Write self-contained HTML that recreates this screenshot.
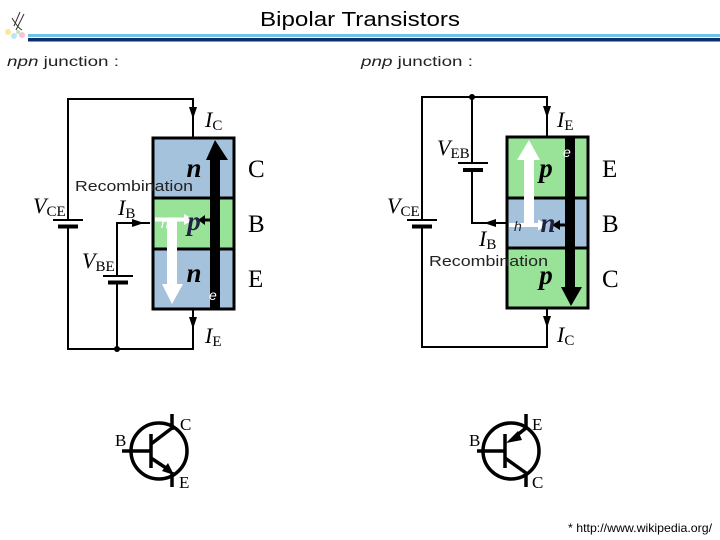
<!DOCTYPE html>
<html><head><meta charset="utf-8"><style>
html,body{margin:0;padding:0;background:#fff;}
svg{display:block;}
.s{font-family:"Liberation Sans",sans-serif;}
.r{font-family:"Liberation Serif",serif;}
.i{font-family:"Liberation Serif",serif;font-style:italic;}
.sub{font-family:"Liberation Serif",serif;}
</style></head><body>
<svg width="720" height="540" viewBox="0 0 720 540" xmlns="http://www.w3.org/2000/svg">
<text x="360" y="26" class="s" font-size="20" text-anchor="middle" textLength="200" lengthAdjust="spacingAndGlyphs">Bipolar Transistors</text>
<rect x="28" y="34" width="692" height="3" fill="#6fc3e6"/>
<rect x="28" y="38" width="692" height="3.5" fill="#0d2f6b"/>
<path d="M14 26 L20 12 M16 30 L24 14 M12 18 Q18 28 22 30" stroke="#333" stroke-width="1" fill="none"/>
<circle cx="8" cy="32" r="3" fill="#f3e06a" opacity="0.7"/>
<circle cx="14" cy="36" r="3" fill="#a6d8f0" opacity="0.7"/>
<circle cx="22" cy="35" r="3" fill="#f5a8c8" opacity="0.7"/>
<circle cx="18" cy="32" r="2" fill="#9fe08f" opacity="0.7"/>
<text x="7" y="66" class="s" font-size="14" textLength="112" lengthAdjust="spacingAndGlyphs" fill="#222"><tspan font-style="italic">npn</tspan> junction :</text>
<text x="361" y="66" class="s" font-size="14" textLength="112" lengthAdjust="spacingAndGlyphs" fill="#222"><tspan font-style="italic">pnp</tspan> junction :</text>

<!-- ===== NPN ===== -->
<g stroke="#000" stroke-width="2" fill="none">
<path d="M68 220 V99 H193 V138"/>
<path d="M68 226 V349 H193 V309"/>
<path d="M117 349 V282 M117 276 V223 H150"/>
</g>
<path d="M189 107 L193 119 L197 107 Z" fill="#000"/>
<path d="M189 317 L193 329 L197 317 Z" fill="#000"/>
<path d="M132 219 L144 223 L132 227 Z" fill="#000"/>
<circle cx="117" cy="349" r="3" fill="#000"/>
<line x1="53" y1="220" x2="83" y2="220" stroke="#000" stroke-width="2"/>
<line x1="58" y1="226.5" x2="78" y2="226.5" stroke="#000" stroke-width="4"/>
<line x1="103" y1="276" x2="133" y2="276" stroke="#000" stroke-width="2"/>
<line x1="108" y1="282.5" x2="128" y2="282.5" stroke="#000" stroke-width="4"/>
<rect x="153" y="138" width="81" height="60" fill="#a4c2db"/>
<rect x="153" y="198" width="81" height="51" fill="#98e398"/>
<rect x="153" y="249" width="81" height="60" fill="#a4c2db"/>
<rect x="153" y="138" width="81" height="171" fill="none" stroke="#000" stroke-width="3"/>
<line x1="153" y1="198" x2="234" y2="198" stroke="#000" stroke-width="3"/>
<line x1="153" y1="249" x2="234" y2="249" stroke="#000" stroke-width="3"/>
<rect x="210" y="158" width="10" height="151" fill="#000"/>
<path d="M206 160 L215 140 L228 160 Z" fill="#000"/>
<line x1="210" y1="220" x2="202" y2="220" stroke="#000" stroke-width="3"/>
<path d="M205 215 L198 220 L205 225 Z" fill="#000"/>
<rect x="167" y="218" width="10" height="66" fill="#fff"/>
<path d="M162 284 L183 284 L172 304 Z" fill="#fff"/>
<rect x="155" y="217.5" width="30" height="4" fill="#fff"/>
<path d="M184 214 L194 219.5 L184 225 Z" fill="#fff"/>
<text x="194" y="177" class="r" font-size="27" font-weight="bold" font-style="italic" text-anchor="middle">n</text>
<text x="194" y="230" class="r" font-size="27" font-weight="bold" font-style="italic" text-anchor="middle" fill="#224">p</text>
<text x="194" y="282" class="r" font-size="27" font-weight="bold" font-style="italic" text-anchor="middle">n</text>
<text x="248" y="177" class="sub" font-size="25">C</text>
<text x="248" y="232" class="sub" font-size="25">B</text>
<text x="248" y="287" class="sub" font-size="25">E</text>
<text x="205" y="127" class="i" font-size="22">I<tspan font-style="normal" font-size="15" dy="3">C</tspan></text>
<text x="205" y="343" class="i" font-size="22">I<tspan font-style="normal" font-size="15" dy="3">E</tspan></text>
<text x="118" y="215" class="i" font-size="22">I<tspan font-style="normal" font-size="15" dy="3">B</tspan></text>
<text x="33" y="213" class="i" font-size="22">V<tspan font-style="normal" font-size="15" dy="3">CE</tspan></text>
<text x="82" y="268" class="i" font-size="22">V<tspan font-style="normal" font-size="15" dy="3">BE</tspan></text>
<text x="75" y="191" class="s" font-size="15" textLength="118" lengthAdjust="spacingAndGlyphs" fill="#222">Recombination</text>
<text x="161" y="228" class="s" font-size="14" font-style="italic" fill="#fff">h</text>
<text x="209" y="300" class="s" font-size="14" font-style="italic" fill="#fff">e</text>

<!-- ===== PNP ===== -->
<g stroke="#000" stroke-width="2" fill="none">
<path d="M422 220 V97 H547 V137"/>
<path d="M422 226 V347 H547 V308"/>
<path d="M472 97 V163 M472 170 V223 H507"/>
</g>
<circle cx="472" cy="97" r="3" fill="#000"/>
<path d="M543 106 L547 118 L551 106 Z" fill="#000"/>
<path d="M543 316 L547 328 L551 316 Z" fill="#000"/>
<path d="M496 219 L484 223 L496 227 Z" fill="#000"/>
<line x1="458" y1="163" x2="488" y2="163" stroke="#000" stroke-width="2"/>
<line x1="463" y1="170" x2="483" y2="170" stroke="#000" stroke-width="4"/>
<line x1="407" y1="220" x2="437" y2="220" stroke="#000" stroke-width="2"/>
<line x1="412" y1="226.5" x2="432" y2="226.5" stroke="#000" stroke-width="4"/>
<rect x="507" y="137" width="81" height="61" fill="#98e398"/>
<rect x="507" y="198" width="81" height="50" fill="#a4c2db"/>
<rect x="507" y="248" width="81" height="60" fill="#98e398"/>
<rect x="507" y="137" width="81" height="171" fill="none" stroke="#000" stroke-width="3"/>
<line x1="507" y1="198" x2="588" y2="198" stroke="#000" stroke-width="3"/>
<line x1="507" y1="248" x2="588" y2="248" stroke="#000" stroke-width="3"/>
<rect x="565" y="137" width="10" height="152" fill="#000"/>
<path d="M561 287 L582 287 L571 306 Z" fill="#000"/>
<line x1="565" y1="225" x2="557" y2="225" stroke="#000" stroke-width="3"/>
<path d="M560 220 L552 225 L560 230 Z" fill="#000"/>
<rect x="524" y="158" width="10" height="69" fill="#fff"/>
<path d="M517 160 L540 160 L529 140 Z" fill="#fff"/>
<rect x="509" y="223" width="30" height="4" fill="#fff"/>
<path d="M538 219.5 L547 225 L538 230.5 Z" fill="#fff"/>
<text x="546" y="177" class="r" font-size="27" font-weight="bold" font-style="italic" text-anchor="middle">p</text>
<text x="548" y="232" class="r" font-size="27" font-weight="bold" font-style="italic" text-anchor="middle" fill="#224">n</text>
<text x="546" y="284" class="r" font-size="27" font-weight="bold" font-style="italic" text-anchor="middle">p</text>
<text x="602" y="177" class="sub" font-size="25">E</text>
<text x="602" y="232" class="sub" font-size="25">B</text>
<text x="602" y="287" class="sub" font-size="25">C</text>
<text x="557" y="127" class="i" font-size="22">I<tspan font-style="normal" font-size="15" dy="3">E</tspan></text>
<text x="557" y="342" class="i" font-size="22">I<tspan font-style="normal" font-size="15" dy="3">C</tspan></text>
<text x="479" y="246" class="i" font-size="22">I<tspan font-style="normal" font-size="15" dy="3">B</tspan></text>
<text x="437" y="155" class="i" font-size="22">V<tspan font-style="normal" font-size="15" dy="3">EB</tspan></text>
<text x="387" y="213" class="i" font-size="22">V<tspan font-style="normal" font-size="15" dy="3">CE</tspan></text>
<text x="429" y="266" class="s" font-size="15" textLength="119" lengthAdjust="spacingAndGlyphs" fill="#222">Recombination</text>
<text x="514" y="231" class="s" font-size="14" font-style="italic" fill="#222">h</text>
<text x="563" y="157" class="s" font-size="14" font-style="italic" fill="#fff">e</text>

<!-- symbols -->
<g stroke="#000" stroke-width="3.5" fill="none">
<circle cx="159" cy="451" r="28"/>
<line x1="122" y1="451" x2="151" y2="451"/>
<line x1="151" y1="434" x2="151" y2="468"/>
<line x1="151" y1="444" x2="172" y2="428"/>
<line x1="172" y1="414" x2="172" y2="430"/>
<line x1="151" y1="458" x2="166" y2="468"/>
<line x1="172" y1="472" x2="172" y2="487"/>
<circle cx="511" cy="451" r="28"/>
<line x1="477" y1="451" x2="505" y2="451"/>
<line x1="505" y1="434" x2="505" y2="468"/>
<line x1="505" y1="458" x2="526" y2="473"/>
<line x1="526" y1="414" x2="526" y2="430"/>
<line x1="516" y1="436" x2="526" y2="428"/>
<line x1="526" y1="472" x2="526" y2="487"/>
</g>
<path d="M174 475 L162 471 L168 463 Z" fill="#000"/>
<path d="M506 443 L518 431 L522 440 Z" fill="#000"/>
<text x="115" y="446" class="sub" font-size="17">B</text>
<text x="180" y="430" class="sub" font-size="17">C</text>
<text x="179" y="488" class="sub" font-size="17">E</text>
<text x="469" y="446" class="sub" font-size="17">B</text>
<text x="532" y="430" class="sub" font-size="17">E</text>
<text x="532" y="488" class="sub" font-size="17">C</text>

<text x="568" y="532" class="s" font-size="12" textLength="144" lengthAdjust="spacingAndGlyphs">* http://www.wikipedia.org/</text>
</svg>
</body></html>
